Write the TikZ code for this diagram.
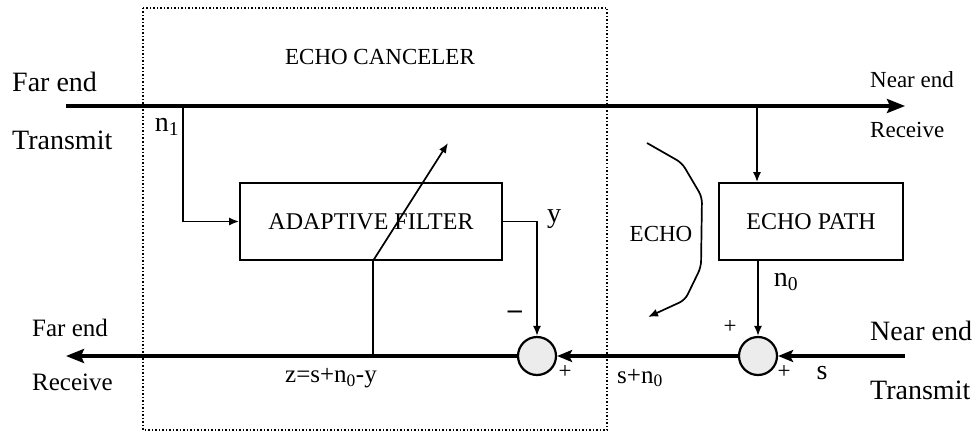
\documentclass[tikz,border=0pt]{standalone}
\usepackage{fontspec}
\setmainfont{Liberation Serif}
\usetikzlibrary{arrows.meta}
\begin{document}
\begin{tikzpicture}[x=1pt,y=-1pt,
  mainline/.style={line width=3.4pt},
  sig/.style={line width=1.7pt},
  bigtip/.style={-{Stealth[length=18pt,width=14pt,inset=3pt]}},
  smalltip/.style={-{Latex[length=10pt,width=8pt]}},
  blk/.style={draw,line width=1.7pt,inner sep=0pt,font=\fontsize{24}{26}\selectfont},
  sum/.style={draw,circle,line width=2.2pt,fill=gray!15,minimum size=38pt,inner sep=0pt},
  lbl/.style={inner sep=0pt,font=\fontsize{28}{30}\selectfont},
  slbl/.style={inner sep=0pt,font=\fontsize{23}{25}\selectfont},
  mlbl/.style={inner sep=0pt,font=\fontsize{25}{27}\selectfont}]
\useasboundingbox (0,0) rectangle (974,433);
% dotted canceler box
\draw[dotted,line width=1.5pt] (143,8) rectangle (607,430);
% blocks
\node[blk,minimum width=262pt,minimum height=77pt] (af) at (371,221.5) {ADAPTIVE FILTER};
\node[blk,minimum width=184pt,minimum height=77pt] (ep) at (811,221.5) {ECHO PATH};
\node[sum] (c1) at (537,356) {};
\node[sum] (c2) at (758,356) {};
% coordinates
\coordinate (fe) at (66,106);
\coordinate (ne) at (905,106);
\coordinate (t1) at (183,106);
\coordinate (t2) at (757,106);
\coordinate (nt) at (905,356);
\coordinate (fr) at (66,356);
\coordinate (tp) at (373,356);
\coordinate (tt) at (448,143);
% top line
\draw[mainline,bigtip] (fe) -- (ne);
\draw[sig,smalltip] (t1) |- (af.west);
\draw[sig,smalltip] (t2) -- (t2 |- ep.north);
\draw[sig,smalltip] (ep.south -| c2) -- (c2.north);
\draw[sig,smalltip] (af.east) -| (c1.north);
% bottom line
\draw[mainline,-{Stealth[length=15pt,width=12pt,inset=3pt]}] (nt) -- (c2.east);
\draw[mainline,-{Stealth[length=15pt,width=12pt,inset=3pt]}] (c2.west) -- (c1.east);
\draw[mainline,bigtip] (c1.west) -- (fr);
% adaptation
\draw[sig] (tp) -- (tp |- af.south);
\draw[sig,smalltip] (tp |- af.south) -- (tt);
% echo curve
\coordinate (e0) at (647,143);
\coordinate (e5) at (648,317);
\draw[sig,smalltip,rounded corners=6pt] (e0) -- (682,163) -- (702,197) -- (701,267) -- (685,300) -- (e5);
% labels
\node[lbl,anchor=west] (l1) at (12,82) {Far end};
\node[lbl,anchor=west] (l2) at (12,140) {Transmit};
\node[slbl,anchor=west] (l3) at (870,80) {Near end};
\node[slbl,anchor=west] (l4) at (870,130) {Receive};
\node[mlbl,anchor=west] (l5) at (32,328) {Far end};
\node[mlbl,anchor=west] (l6) at (32,382) {Receive};
\node[lbl,anchor=west] (l7) at (870,331) {Near end};
\node[lbl,anchor=west] (l8) at (870,390) {Transmit};
\node[slbl] (ec) at (380,57) {ECHO CANCELER};
\node[slbl] (echo) at (661,234) {ECHO};
\node[lbl] (n1) at (167,127) {n\textsubscript{1}};
\node[lbl] (n0) at (786,282) {n\textsubscript{0}};
\node[lbl] (ylab) at (554,219) {y};
\node[lbl] (minus) at (515,315) {\textbf{--}};
\node[slbl] (p1) at (730,327) {+};
\node[slbl] (p2) at (784,372) {+};
\node[slbl] (p3) at (565,372) {+};
\node[lbl] (slab) at (822,373) {s};
\node[mlbl] (zlab) at (331,378) {z=s+n\textsubscript{0}-y};
\node[mlbl] (snlab) at (640,378) {s+n\textsubscript{0}};
\end{tikzpicture}
\end{document}
